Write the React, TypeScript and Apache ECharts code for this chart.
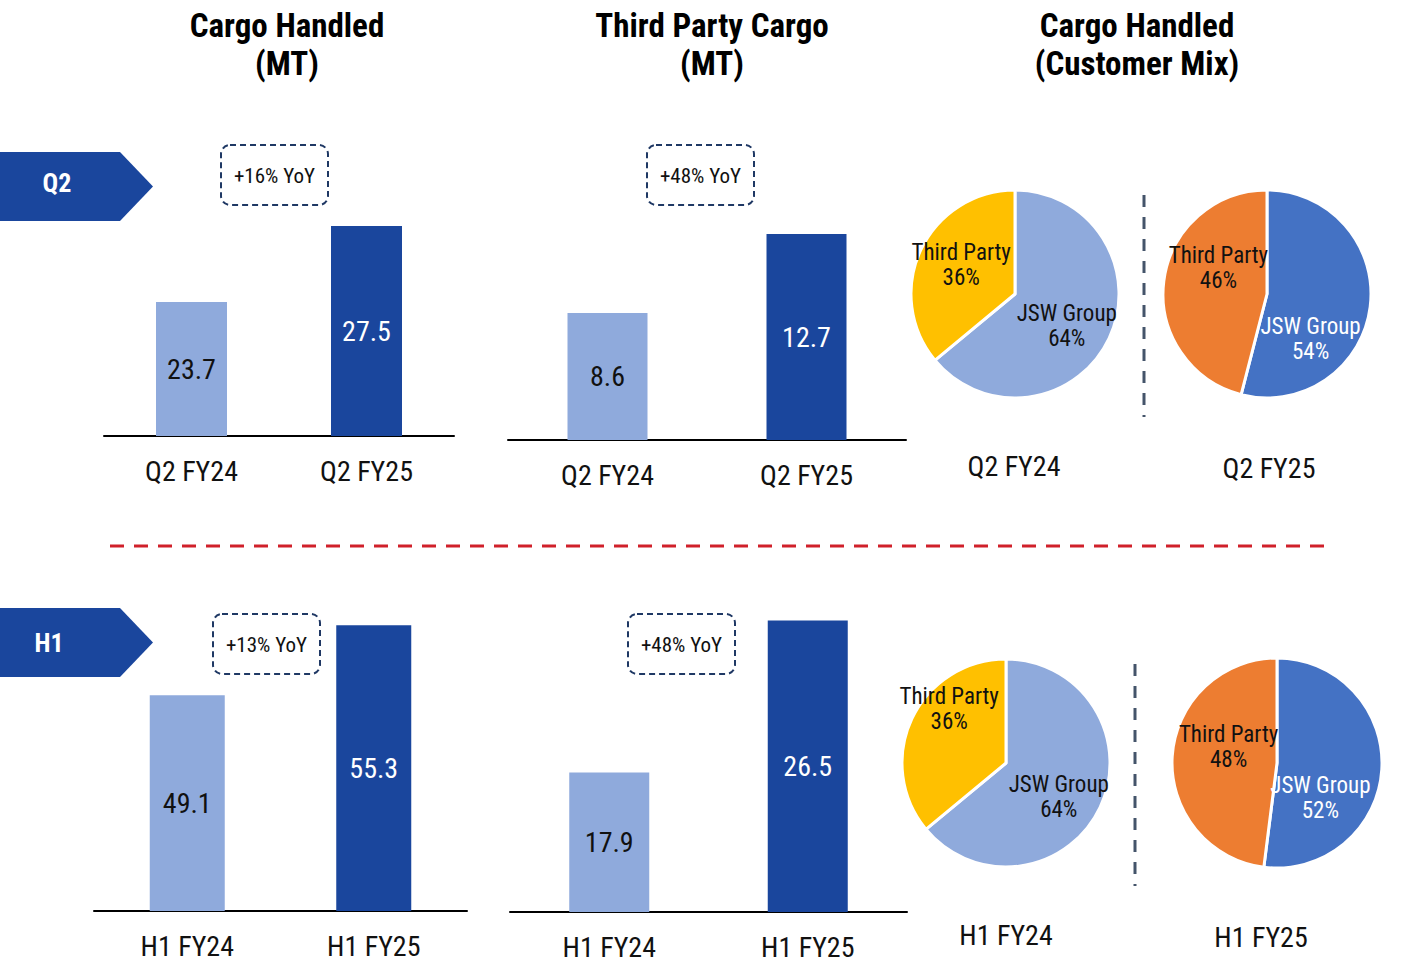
import React, { useEffect, useRef } from "react";
import * as echarts from "echarts";

// ---------- data ----------
const q2Categories = ["Q2 FY24", "Q2 FY25"];
const h1Categories = ["H1 FY24", "H1 FY25"];
const q2CargoHandled = [23.7, 27.5];
const q2ThirdParty = [8.6, 12.7];
const h1CargoHandled = [49.1, 55.3];
const h1ThirdParty = [17.9, 26.5];
const mixNames = ["JSW Group", "Third Party"];
const q2FY24Mix = [64, 36];
const q2FY25Mix = [54, 46];
const h1FY24Mix = [64, 36];
const h1FY25Mix = [52, 48];
const yoyLabels = ["+16% YoY", "+48% YoY", "+13% YoY", "+48% YoY"];
const panelTitles = [
  ["Cargo Handled", "(MT)"],
  ["Third Party Cargo", "(MT)"],
  ["Cargo Handled", "(Customer Mix)"],
];
const periodTags = ["Q2", "H1"];

// ---------- styles ----------
const NARROW = '"Liberation Sans Narrow", "Arial Narrow", "Roboto Condensed", Roboto, sans-serif';
const LIGHT = "#8FAADC";
const DARK = "#1A469D";
const PREV_JSW = "#8FAADC";
const PREV_TP = "#FFC000";
const CUR_JSW = "#4472C4";
const CUR_TP = "#ED7D31";

// bar panel layouts: grid + axis range
const barPanels = [
  { values: q2CargoHandled, cats: q2Categories, left: 104, width: 350, top: 196, height: 240, min: 17, max: 29, barWidth: 71 },
  { values: q2ThirdParty, cats: q2Categories, left: 508, width: 398, top: 209, height: 231, min: 2, max: 14, barWidth: 80 },
  { values: h1CargoHandled, cats: h1Categories, left: 94, width: 373, top: 606, height: 305, min: 30, max: 57, barWidth: 75 },
  { values: h1ThirdParty, cats: h1Categories, left: 510, width: 397, top: 594, height: 318, min: 10, max: 28, barWidth: 80 },
];

const piePanels = [
  { values: q2FY24Mix, colors: [PREV_JSW, PREV_TP], labelColors: ["#111", "#111"], center: [1015, 294], r: 104, shift: [[2, 9], [-4, -6]], caption: q2Categories[0], capX: 1014, capY: 466 },
  { values: q2FY25Mix, colors: [CUR_JSW, CUR_TP], labelColors: ["#fff", "#111"], center: [1267, 294], r: 104, shift: [[-11, 38], [6, -19]], caption: q2Categories[1], capX: 1269, capY: 468 },
  { values: h1FY24Mix, colors: [PREV_JSW, PREV_TP], labelColors: ["#111", "#111"], center: [1006, 763], r: 104, shift: [[3, 11], [-7, -31]], caption: h1Categories[0], capX: 1006, capY: 935 },
  { values: h1FY25Mix, colors: [CUR_JSW, CUR_TP], labelColors: ["#fff", "#111"], center: [1277, 763], r: 105, shift: [[-12, 32], [7, -13]], caption: h1Categories[1], capX: 1261, capY: 937 },
];

const yoyBoxes = [
  { x: 221, y: 145 },
  { x: 647, y: 145 },
  { x: 213, y: 614 },
  { x: 628, y: 614 },
];

const titleCenters = [287, 712, 1137];
const tagTops = [152, 608];

function buildOption() {
  const grid: any[] = [];
  const xAxis: any[] = [];
  const yAxis: any[] = [];
  const series: any[] = [];

  barPanels.forEach((p, i) => {
    grid.push({ left: p.left, width: p.width, top: p.top, height: p.height, containLabel: false });
    xAxis.push({
      type: "category",
      gridIndex: i,
      data: p.cats,
      axisLine: { show: true, lineStyle: { color: "#000", width: 2 } },
      axisTick: { show: false },
      axisLabel: { fontSize: 28, color: "#111", fontFamily: NARROW, margin: 21 },
    });
    yAxis.push({
      type: "value",
      gridIndex: i,
      min: p.min,
      max: p.max,
      show: false,
      splitLine: { show: false },
    });
    series.push({
      type: "bar",
      xAxisIndex: i,
      yAxisIndex: i,
      barWidth: p.barWidth,
      data: p.values.map((v, j) => ({
        value: v,
        itemStyle: { color: j === 0 ? LIGHT : DARK },
        label: { color: j === 0 ? "#111" : "#fff" },
      })),
      label: {
        show: true,
        position: "inside",
        fontSize: 28,
        fontFamily: NARROW,
        formatter: (q: any) => Number(q.value).toFixed(1),
      },
    });
  });

  piePanels.forEach((p) => {
    series.push({
      type: "pie",
      center: p.center,
      radius: p.r,
      startAngle: 90,
      clockwise: true,
      avoidLabelOverlap: false,
      itemStyle: { borderColor: "#fff", borderWidth: 3 },
      label: {
        show: true,
        position: "inside",
        fontFamily: NARROW,
        fontSize: 23,
        lineHeight: 25,
        formatter: (q: any) => `${q.name}\n${q.value}%`,
      },
      labelLine: { show: false },
      labelLayout: (q: any) => ({ dx: p.shift[q.dataIndex][0], dy: p.shift[q.dataIndex][1] }),
      data: p.values.map((v, j) => ({
        name: mixNames[j],
        value: v,
        itemStyle: { color: p.colors[j] },
        label: { color: p.labelColors[j] },
      })),
    });
  });

  const graphic: any[] = [];

  // titles
  panelTitles.forEach((t, i) => {
    t.forEach((line, k) => {
      graphic.push({
        type: "text",
        x: titleCenters[i],
        y: 25 + k * 38,
        style: {
          text: line,
          fill: "#000",
          font: `bold 33px ${NARROW}`,
          align: "center",
          verticalAlign: "middle",
        },
      });
    });
  });

  // period tags
  periodTags.forEach((tag, i) => {
    const t = tagTops[i];
    graphic.push({
      type: "polygon",
      shape: { points: [[0, t], [120, t], [153, t + 34.5], [120, t + 69], [0, t + 69]] },
      style: { fill: DARK },
    });
    graphic.push({
      type: "text",
      x: i === 0 ? 57 : 49,
      y: i === 0 ? t + 31 : t + 35,
      style: { text: tag, fill: "#fff", font: `bold 26px ${NARROW}`, align: "center", verticalAlign: "middle" },
    });
  });

  // yoy boxes
  yoyBoxes.forEach((b, i) => {
    graphic.push({
      type: "rect",
      shape: { x: b.x, y: b.y, width: 107, height: 60, r: 9 },
      style: { fill: "none", stroke: "#1F3864", lineWidth: 2, lineDash: [6, 4] },
    });
    graphic.push({
      type: "text",
      x: b.x + 53.5,
      y: b.y + 31,
      style: { text: yoyLabels[i], fill: "#111", font: `21px ${NARROW}`, align: "center", verticalAlign: "middle" },
    });
  });

  // pie captions
  piePanels.forEach((p) => {
    graphic.push({
      type: "text",
      x: p.capX,
      y: p.capY,
      style: { text: p.caption, fill: "#111", font: `28px ${NARROW}`, align: "center", verticalAlign: "middle" },
    });
  });

  // red separator
  graphic.push({
    type: "line",
    shape: { x1: 110, y1: 546, x2: 1327, y2: 546 },
    style: { stroke: "#D0202A", lineWidth: 3, lineDash: [14, 10] },
  });

  // vertical separators between pies
  graphic.push({
    type: "line",
    shape: { x1: 1144, y1: 195, x2: 1144, y2: 417 },
    style: { stroke: "#44546A", lineWidth: 3, lineDash: [12, 10] },
  });
  graphic.push({
    type: "line",
    shape: { x1: 1135, y1: 664, x2: 1135, y2: 886 },
    style: { stroke: "#44546A", lineWidth: 3, lineDash: [12, 10] },
  });

  return {
    animation: false,
    backgroundColor: "#fff",
    grid,
    xAxis,
    yAxis,
    series,
    graphic,
  };
}

export default function App() {
  const ref = useRef<HTMLDivElement>(null);
  useEffect(() => {
    if (!ref.current) return;
    const chart = echarts.init(ref.current, undefined, { renderer: "svg" });
    chart.setOption(buildOption() as any);
    return () => chart.dispose();
  }, []);
  return (
    <div
      ref={ref}
      style={{ position: "fixed", left: 0, top: 0, width: 1404, height: 963, background: "#fff" }}
    />
  );
}
